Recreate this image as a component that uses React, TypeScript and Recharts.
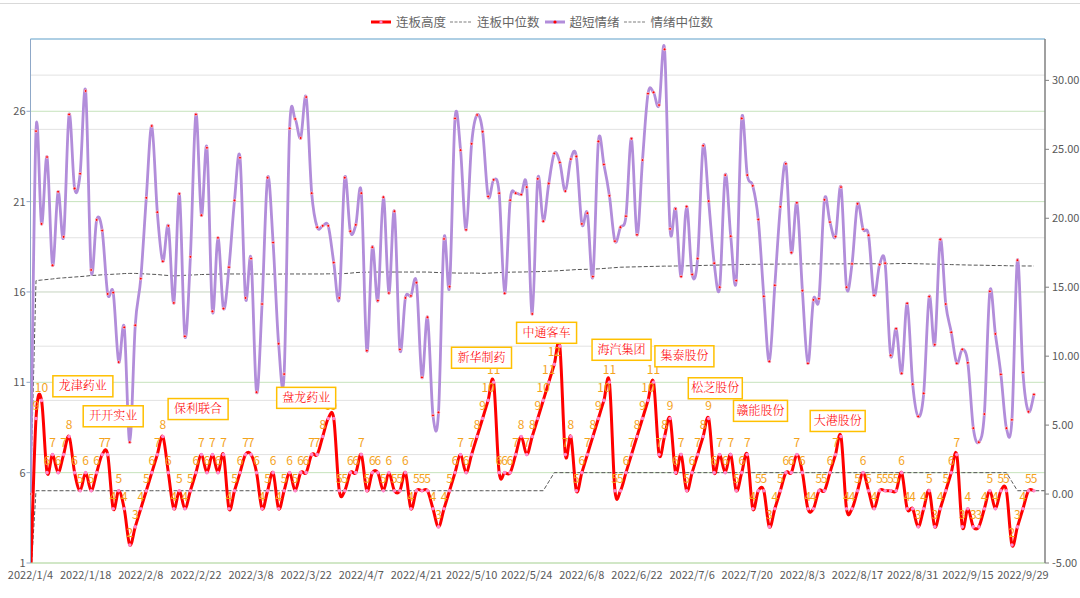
import { LineChart, Line, XAxis, YAxis, CartesianGrid, ReferenceLine, ReferenceDot } from 'recharts';

// x axis: trading-day index, label every 10th day
const tickLabels = [
  '2022/1/4', '2022/1/18', '2022/2/8', '2022/2/22', '2022/3/8', '2022/3/22', '2022/4/7',
  '2022/4/21', '2022/5/10', '2022/5/24', '2022/6/8', '2022/6/22', '2022/7/6', '2022/7/20',
  '2022/8/3', '2022/8/17', '2022/8/31', '2022/9/15', '2022/9/29',
];

// 连板高度 (left axis)
const boardHeight = [
  0, 9, 10, 6, 7, 6, 7, 8, 6, 5,
  6, 5, 6, 7, 7, 4, 5, 4, 2, 3,
  4, 5, 6, 7, 8, 6, 4, 5, 4, 5,
  6, 7, 6, 7, 6, 7, 4, 5, 6, 7,
  7, 6, 4, 5, 6, 4, 5, 6, 5, 6,
  6, 7, 7, 8, 9, 9, 5, 5, 6, 6,
  7, 5, 6, 6, 5, 6, 5, 5, 6, 4,
  5, 5, 5, 4, 3, 4, 5, 6, 7, 6,
  7, 8, 9, 10, 11, 6, 6, 6, 7, 8,
  7, 8, 9, 10, 11, 12, 13, 7, 8, 5,
  6, 7, 8, 9, 10, 11, 5, 5, 6, 7,
  8, 9, 10, 11, 7, 8, 9, 6, 7, 5,
  6, 7, 8, 9, 6, 7, 6, 7, 5, 6,
  7, 4, 5, 5, 3, 4, 5, 6, 6, 7,
  6, 4, 4, 5, 5, 6, 7, 8, 4, 4,
  5, 6, 5, 4, 5, 5, 5, 5, 6, 4,
  4, 3, 4, 5, 3, 4, 5, 6, 7, 3,
  4, 3, 3, 4, 5, 4, 5, 5, 2, 3,
  4, 5, 5,
];

// 连板中位数 (left axis)
const boardMedian = [
  0, 5, 5, 5, 5, 5, 5, 5, 5, 5,
  5, 5, 5, 5, 5, 5, 5, 5, 5, 5,
  5, 5, 5, 5, 5, 5, 5, 5, 5, 5,
  5, 5, 5, 5, 5, 5, 5, 5, 5, 5,
  5, 5, 5, 5, 5, 5, 5, 5, 5, 5,
  5, 5, 5, 5, 5, 5, 5, 5, 5, 5,
  5, 5, 5, 5, 5, 5, 5, 5, 5, 5,
  5, 5, 5, 5, 5, 5, 5, 5, 5, 5,
  5, 5, 5, 5, 5, 5, 5, 5, 5, 5,
  5, 5, 5, 5, 5.5, 6, 6, 6, 6, 6,
  6, 6, 6, 6, 6, 6, 6, 6, 6, 6,
  6, 6, 6, 6, 6, 6, 6, 6, 6, 6,
  6, 6, 6, 6, 6, 6, 6, 6, 6, 6,
  6, 6, 6, 6, 6, 6, 6, 6, 6, 6,
  6, 6, 6, 6, 6, 6, 6, 6, 6, 6,
  6, 6, 6, 6, 6, 6, 6, 6, 6, 6,
  6, 6, 6, 6, 6, 6, 6, 6, 6, 6,
  6, 6, 6, 6, 6, 6, 6, 6, 5.5, 5,
  5, 5, 5, 5, 5,
];

// 超短情绪 (right axis)
const mood = [
  0, 26.32, 19.59, 24.44, 16.59, 21.92, 18.65, 27.53, 22.16, 23.23,
  29.23, 16.25, 19.88, 19.11, 14.51, 14.61, 9.57, 12.09, 3.76, 12.24,
  15.62, 21.48, 26.69, 20.44, 16.88, 19.45, 13.86, 21.77, 11.44, 17.2,
  27.53, 20.22, 25.11, 13.25, 18.58, 13.45, 16.45, 21.29, 24.39, 14.22,
  17.08, 7.39, 13.78, 22.94, 18.24, 10.9, 8.7, 26.52, 27.2, 25.82,
  28.79, 21.82, 19.35, 19.45, 19.45, 16.79, 14.22, 22.94, 19.06, 19.52,
  21.82, 10.4, 17.9, 14.03, 21.53, 14.58, 20.51, 10.49, 14.22, 14.37,
  15.33, 8.46, 12.82, 5.7, 5.92, 18.5, 15.04, 27.24, 24.94, 19.16,
  25.4, 27.49, 26.28, 21.58, 22.79, 21.82, 14.56, 21.31, 21.82, 21.72,
  22.26, 13.06, 22.86, 19.79, 22.52, 24.7, 24.05, 21.97, 24.29, 24.48,
  19.59, 20.37, 15.77, 25.57, 23.9, 21.63, 18.34, 19.35, 20.15, 25.77,
  18.8, 24.22, 29.04, 29.13, 28.21, 32.25, 19.23, 20.68, 15.77, 20.85,
  15.92, 17.08, 25.26, 21.24, 16.74, 15.0, 23.13, 18.7, 15.48, 27.24,
  23.13, 22.35, 19.91, 14.34, 9.62, 15.14, 20.83, 23.95, 17.51, 21.12,
  14.75, 9.48, 14.08, 14.17, 21.34, 19.72, 18.67, 22.26, 15.0, 16.69,
  21.05, 19.21, 18.77, 14.41, 16.64, 16.74, 10.06, 11.99, 8.75, 13.83,
  7.97, 5.63, 7.3, 14.32, 10.83, 18.46, 13.78, 11.73, 9.48, 10.49,
  9.52, 4.78, 3.76, 5.8, 14.7, 11.61, 8.68, 4.78, 5.38, 16.96,
  8.82, 5.97, 7.22,
];

// 情绪中位数 (right axis)
const moodMedian = [
  0, 15.48, 15.52, 15.56, 15.6, 15.65, 15.68, 15.71, 15.74, 15.77,
  15.8, 15.85, 15.87, 15.9, 15.92, 15.94, 15.96, 15.99, 16.0, 16.0,
  15.98, 15.96, 15.94, 15.92, 15.88, 15.85, 15.82, 15.84, 15.86, 15.88,
  15.9, 15.92, 15.93, 15.94, 15.95, 15.96, 15.96, 15.96, 15.96, 15.96,
  15.96, 15.96, 15.95, 15.95, 15.95, 15.95, 15.96, 15.96, 15.96, 15.96,
  15.96, 15.96, 15.96, 15.96, 15.97, 15.97, 15.98, 15.99, 16.02, 16.06,
  16.08, 16.09, 16.1, 16.1, 16.1, 16.1, 16.1, 16.1, 16.1, 16.1,
  16.1, 16.1, 16.1, 16.08, 16.06, 16.05, 16.04, 16.03, 16.02, 16.02,
  16.03, 16.02, 16.0, 16.02, 16.04, 16.06, 16.08, 16.09, 16.1, 16.1,
  16.11, 16.12, 16.13, 16.14, 16.16, 16.18, 16.2, 16.23, 16.25, 16.28,
  16.29, 16.3, 16.31, 16.33, 16.36, 16.39, 16.42, 16.45, 16.46, 16.47,
  16.48, 16.49, 16.5, 16.51, 16.52, 16.53, 16.53, 16.54, 16.54, 16.55,
  16.56, 16.57, 16.58, 16.59, 16.6, 16.61, 16.62, 16.63, 16.64, 16.65,
  16.65, 16.66, 16.66, 16.67, 16.67, 16.67, 16.68, 16.68, 16.68, 16.68,
  16.69, 16.69, 16.69, 16.69, 16.69, 16.69, 16.69, 16.69, 16.7, 16.7,
  16.7, 16.7, 16.7, 16.7, 16.7, 16.7, 16.7, 16.71, 16.72, 16.72,
  16.71, 16.7, 16.69, 16.68, 16.67, 16.66, 16.65, 16.64, 16.63, 16.62,
  16.61, 16.6, 16.6, 16.59, 16.58, 16.57, 16.57, 16.56, 16.55, 16.55,
  16.54, 16.54, 16.54,
];

// stock name callouts, anchored in (day, left-axis value) units
const calloutNames = ['龙津药业', '开开实业', '保利联合', '盘龙药业', '新华制药', '中通客车', '海汽集团', '集泰股份', '松芝股份', '赣能股份', '大港股份'];
const calloutDays = [9.5, 15, 30.4, 50, 81.8, 93.6, 107.2, 118.6, 124.2, 132.4, 146.4];
const calloutLevels = [10.78, 9.12, 9.52, 10.14, 12.36, 13.74, 12.8, 12.44, 10.67, 9.42, 8.86];
const calloutWidths = [60, 60, 60, 59, 60, 60, 59, 59, 54, 54, 55];

const X_MAX = 184;
const leftTicks = [1, 6, 11, 16, 21, 26];
const rightTicks = [-5, 0, 5, 10, 15, 20, 25, 30];
const minorGridLevels = [4, 7, 10, 13, 16, 19, 22, 25, 28];
const minorXTicks = Array.from({ length: 26 }, (_, i) => (i + 1) * 7);

const rows = boardMedian.map((m, i) => ({
  x: i,
  board: i < boardHeight.length ? boardHeight[i] : null,
  boardMedian: m,
  mood: i < mood.length ? mood[i] : null,
  moodMedian: i < moodMedian.length ? moodMedian[i] : null,
}));

const RED = '#FF0000';
const PURPLE = '#B28DDA';
const LABEL_ORANGE = '#F4A31C';
const AXIS_TEXT = '#595959';
const FONT = "'Noto Sans CJK SC', 'Noto Sans', sans-serif";

/** Excel-like smoothing: uniform Catmull-Rom converted to cubic beziers */
const excelSmooth = (context: any) => {
  let pts: number[][] = [];
  return {
    areaStart() {},
    areaEnd() {},
    lineStart() {
      pts = [];
    },
    point(x: number, y: number) {
      pts.push([+x, +y]);
    },
    lineEnd() {
      const n = pts.length;
      if (!n) return;
      context.moveTo(pts[0][0], pts[0][1]);
      for (let i = 0; i < n - 1; i++) {
        const p0 = pts[i - 1] || pts[i];
        const p1 = pts[i];
        const p2 = pts[i + 1];
        const p3 = pts[i + 2] || p2;
        context.bezierCurveTo(
          p1[0] + (p2[0] - p0[0]) / 6,
          p1[1] + (p2[1] - p0[1]) / 6,
          p2[0] - (p3[0] - p1[0]) / 6,
          p2[1] - (p3[1] - p1[1]) / 6,
          p2[0],
          p2[1],
        );
      }
    },
  };
};

function boardLabel(p: any) {
  if (!p.value) return null;
  return (
    <text
      key={`bl-${p.index}`}
      x={p.x}
      y={p.y - 8}
      textAnchor="middle"
      fontSize={12}
      fontFamily={FONT}
      fill={LABEL_ORANGE}
    >
      {p.value}
    </text>
  );
}

function Callout({ cx, cy, text, width }: { cx: number; cy: number; text: string; width: number }) {
  const h = 21;
  return (
    <g>
      <rect x={cx - width / 2} y={cy - h / 2} width={width} height={h} fill="#fff" stroke="#FFC000" strokeWidth={1.5} />
      <text
        x={cx}
        y={cy + 4.2}
        textAnchor="middle"
        fontSize={12}
        fontWeight={300}
        fontFamily="'Noto Serif CJK SC', 'Noto Sans CJK SC', serif"
        fill={RED}
      >
        {text}
      </text>
    </g>
  );
}

function LegendIcon({ kind }: { kind: 'board' | 'median' | 'mood' }) {
  if (kind === 'median') {
    return (
      <svg width={21} height={10} style={{ marginRight: 6 }}>
        <line x1={0} y1={5} x2={21} y2={5} stroke="#7F7F7F" strokeWidth={1.2} strokeDasharray="3 1.5" />
      </svg>
    );
  }
  const color = kind === 'board' ? RED : PURPLE;
  const dot = kind === 'board' ? '#FF88CC' : RED;
  return (
    <svg width={20} height={10} style={{ marginRight: 5 }}>
      <line x1={0} y1={5} x2={20} y2={5} stroke={color} strokeWidth={3} />
      <circle cx={10} cy={5} r={1.6} fill={dot} />
    </svg>
  );
}

function TopLegend() {
  const text = { fontSize: 12.5, color: '#666666', marginRight: 4, lineHeight: '14px' };
  return (
    <div
      style={{
        position: 'absolute',
        top: 15,
        left: 0,
        width: 1088,
        display: 'flex',
        justifyContent: 'center',
        alignItems: 'center',
        fontFamily: FONT,
        zIndex: 2,
      }}
    >
      <LegendIcon kind="board" />
      <span style={text}>连板高度</span>
      <LegendIcon kind="median" />
      <span style={{ ...text, marginRight: 5 }}>连板中位数</span>
      <LegendIcon kind="mood" />
      <span style={text}>超短情绪</span>
      <LegendIcon kind="median" />
      <span style={text}>情绪中位数</span>
    </div>
  );
}

export default function App() {
  return (
    <div style={{ position: 'absolute', left: 0, top: 0, width: 1080, height: 598, background: '#fff' }}>
      <div style={{ position: 'absolute', left: 0, top: 3, width: 1080, height: 1, background: '#D9D9D9' }} />
      <TopLegend />
      <LineChart width={1080} height={598} data={rows} margin={{ top: 39, right: 0, bottom: 5, left: 0 }}>
        <XAxis
          xAxisId="minor"
          dataKey="x"
          type="number"
          domain={[0, X_MAX]}
          ticks={minorXTicks}
          tick={false}
          tickSize={-4}
          tickLine={{ stroke: '#BFDDB0' }}
          axisLine={false}
          height={0}
          allowDataOverflow
        />
        <XAxis
          dataKey="x"
          type="number"
          domain={[0, X_MAX]}
          ticks={tickLabels.map((_, i) => i * 10)}
          tickFormatter={(v: number) => tickLabels[v / 10] ?? ''}
          interval={0}
          tickLine={false}
          tickSize={6}
          tickMargin={2}
          axisLine={{ stroke: '#BFDDB0' }}
          tick={{ fontSize: 11, fill: AXIS_TEXT, fontFamily: FONT }}
          height={30}
          allowDataOverflow
        />
        <YAxis
          yAxisId="left"
          domain={[1, 30]}
          ticks={leftTicks}
          allowDataOverflow
          width={30.5}
          tickSize={4}
          tickMargin={1}
          axisLine={{ stroke: '#8FA8C8' }}
          tickLine={{ stroke: '#8FA8C8' }}
          tick={{ fontSize: 11, fill: AXIS_TEXT, fontFamily: FONT }}
        />
        <YAxis
          yAxisId="right"
          orientation="right"
          domain={[-5, 33]}
          ticks={rightTicks}
          allowDataOverflow
          width={35}
          tickSize={4}
          tickMargin={3}
          tickFormatter={(v: number) => v.toFixed(2)}
          axisLine={{ stroke: '#808080', strokeWidth: 1.5 }}
          tickLine={{ stroke: '#808080' }}
          tick={{ fontSize: 11, fill: AXIS_TEXT, fontFamily: FONT, textAnchor: 'start' }}
        />
        {minorGridLevels.map((v) => (
          <ReferenceLine key={`g${v}`} yAxisId="left" y={v} stroke="#E2E2E2" strokeWidth={1} />
        ))}
        <CartesianGrid yAxisId="left" vertical={false} stroke="#C6E3BC" strokeWidth={1} />
        <ReferenceLine yAxisId="left" y={30} stroke="#9DC3E6" strokeWidth={1.5} />

        <Line
          yAxisId="left"
          dataKey="boardMedian"
          type="linear"
          stroke="#555555"
          strokeWidth={1}
          strokeDasharray="4 2"
          dot={false}
          isAnimationActive={false}
        />
        <Line
          yAxisId="right"
          dataKey="moodMedian"
          type="linear"
          stroke="#555555"
          strokeWidth={1}
          strokeDasharray="4 2"
          dot={false}
          isAnimationActive={false}
        />
        <Line
          yAxisId="right"
          dataKey="mood"
          type={excelSmooth as any}
          stroke={PURPLE}
          strokeWidth={2.8}
          dot={{ r: 1.4, fill: RED, stroke: '#F6C6D8', strokeWidth: 0.8 }}
          isAnimationActive={false}
        />
        <Line
          yAxisId="left"
          dataKey="board"
          type={excelSmooth as any}
          stroke={RED}
          strokeWidth={3}
          dot={{ r: 1.8, fill: '#FF88CC', stroke: 'none' }}
          label={boardLabel}
          isAnimationActive={false}
        />
        {calloutNames.map((name, i) => (
          <ReferenceDot
            key={name}
            yAxisId="left"
            x={calloutDays[i]}
            y={calloutLevels[i]}
            r={1}
            zIndex={2500}
            shape={(p: any) => <Callout cx={p.cx} cy={p.cy} text={name} width={calloutWidths[i]} />}
          />
        ))}
      </LineChart>
    </div>
  );
}
